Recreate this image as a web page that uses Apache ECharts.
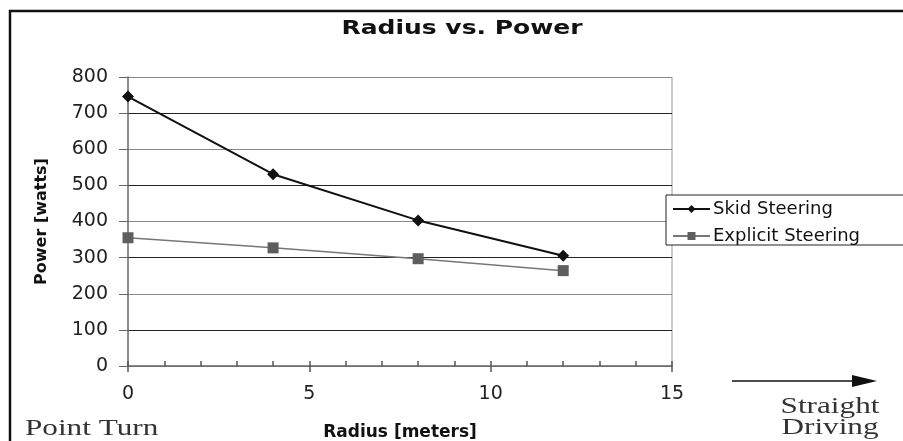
<!DOCTYPE html>
<html>
<head>
<meta charset="utf-8">
<script src="https://cdn.jsdelivr.net/npm/echarts@6/dist/echarts.min.js"></script>
<style>
  html, body { margin: 0; padding: 0; background: #fff; }
  #chart { width: 903px; height: 441px; }
</style>
</head>
<body>
<div id="chart"></div>
<script>
(function() {
  // data
  var radius = [0, 4, 8, 12];
  var skidPower = [746, 531, 403, 305];
  var explicitPower = [355, 327, 297, 264];
  var seriesNames = ['Skid Steering', 'Explicit Steering'];

  var font = 'DejaVu Sans, Arial, sans-serif';
  var serif = 'Liberation Serif, Times New Roman, serif';

  function pairs(xs, ys) {
    return xs.map(function(x, i) { return [x, ys[i]]; });
  }

  var chart = echarts.init(document.getElementById('chart'), null, { renderer: 'canvas' });
  chart.setOption({
    animation: false,
    backgroundColor: '#fff',
    legend: {
      data: seriesNames,
      orient: 'vertical',
      left: 666,
      top: 195,
      itemGap: 9,
      itemWidth: 37,
      itemHeight: 10,
      padding: [5, 60, 0, 6],
      borderColor: '#222',
      borderWidth: 1,
      backgroundColor: '#fff',
      textStyle: { color: '#111', fontSize: 18, fontFamily: font, padding: [0, 0, 0, -2] }
    },
    grid: { left: 128, right: 231, top: 77, bottom: 75, outerBoundsMode: 'none' },
    xAxis: [
      {
        type: 'value',
        min: 0,
        max: 15,
        interval: 5,
        name: 'Radius [meters]',
        nameLocation: 'middle',
        nameGap: 58,
        nameTextStyle: { color: '#111', fontSize: 17, fontWeight: 'bold', fontFamily: font },
        axisLine: { lineStyle: { color: '#666', width: 1.5 } },
        axisTick: { show: true, length: 6, lineStyle: { color: '#555', width: 1.5 } },
        axisLabel: { color: '#222', fontSize: 19, fontFamily: font, margin: 19 },
        splitLine: { show: false }
      },
      {
        type: 'value',
        min: 0,
        max: 15,
        interval: 1,
        position: 'bottom',
        axisLine: { show: false },
        axisTick: { show: true, inside: true, length: 5, lineStyle: { color: '#555', width: 1.5 } },
        axisLabel: { show: false },
        splitLine: { show: false }
      }
    ],
    yAxis: {
      type: 'value',
      min: 0,
      max: 800,
      interval: 100,
      name: 'Power [watts]',
      nameLocation: 'middle',
      nameRotate: 90,
      nameGap: 78,
      nameTextStyle: { color: '#111', fontSize: 16, fontWeight: 'bold', fontFamily: font },
      axisLine: { show: true, lineStyle: { color: '#666', width: 1.5 } },
      axisTick: { show: true, length: 9, lineStyle: { color: '#666' } },
      axisLabel: { color: '#222', fontSize: 19, fontFamily: font, margin: 20 },
      splitLine: { show: true, lineStyle: { color: ['#888', '#222'], width: 1 } }
    },
    series: [
      {
        name: seriesNames[0],
        type: 'line',
        xAxisIndex: 0,
        data: pairs(radius, skidPower),
        symbol: 'diamond',
        symbolSize: 12,
        itemStyle: { color: '#111' },
        lineStyle: { color: '#111', width: 2 }
      },
      {
        name: seriesNames[1],
        type: 'line',
        xAxisIndex: 0,
        data: pairs(radius, explicitPower),
        symbol: 'rect',
        symbolSize: 11,
        itemStyle: { color: '#5e5e5e' },
        lineStyle: { color: '#777', width: 1.5 }
      }
    ],
    graphic: [
      // right border of plot area
      {
        type: 'line',
        shape: { x1: 672, y1: 77, x2: 672, y2: 366 },
        style: { stroke: '#999', lineWidth: 1 }
      },
      // outer frame
      {
        type: 'polyline',
        shape: { points: [[10, 441], [10, 11], [903, 11]] },
        style: { stroke: '#111', lineWidth: 2.5, fill: null }
      },
      {
        type: 'text',
        x: 462,
        y: 19,
        scaleX: 1.25,
        style: { text: 'Radius vs. Power', font: 'bold 20px ' + font, fill: '#111', align: 'center' }
      },
      {
        type: 'text',
        x: 25,
        y: 417,
        scaleX: 1.3,
        style: { text: 'Point Turn', font: '24px ' + serif, fill: '#333' }
      },
      {
        type: 'text',
        x: 830,
        y: 396,
        scaleX: 1.3,
        style: { text: 'Straight\nDriving', font: '24px ' + serif, fill: '#333', align: 'center', lineHeight: 21 }
      },
      {
        type: 'line',
        shape: { x1: 732, y1: 381, x2: 855, y2: 381 },
        style: { stroke: '#111', lineWidth: 1.5 }
      },
      {
        type: 'polygon',
        shape: { points: [[852, 375], [877, 381], [852, 387]] },
        style: { fill: '#111' }
      }
    ]
  });
  window.addEventListener('resize', function() { chart.resize(); });
})();
</script>
</body>
</html>
